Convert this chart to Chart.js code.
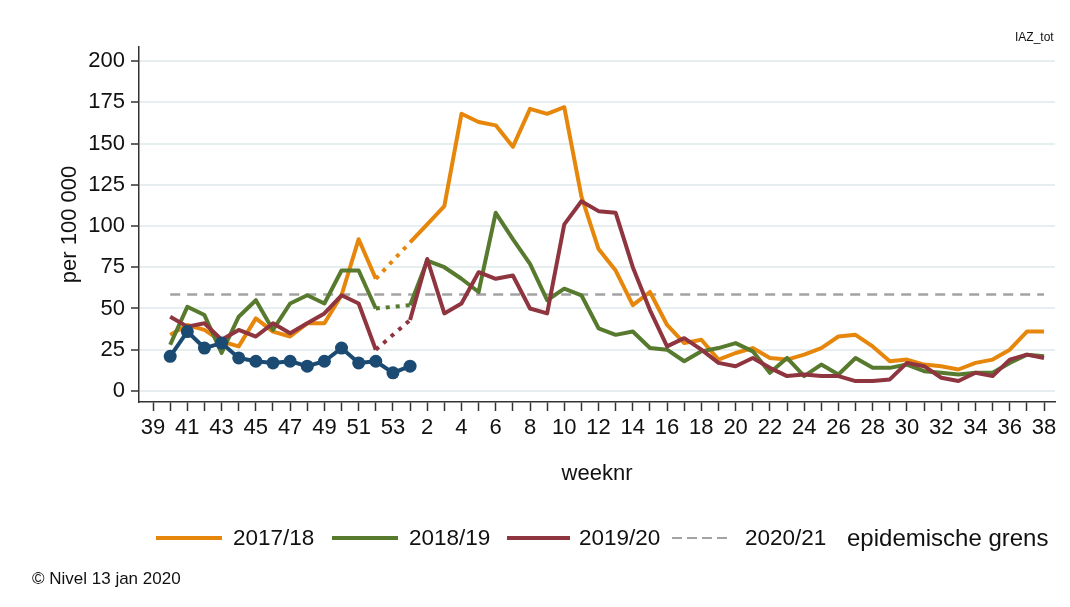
<!DOCTYPE html>
<html>
<head>
<meta charset="utf-8">
<title>IAZ_tot</title>
<script src="https://cdn.jsdelivr.net/npm/chart.js@4.4.1/dist/chart.umd.min.js"></script>
<style>
  html, body { margin: 0; padding: 0; background: #fff; }
  #wrap { position: relative; width: 1070px; height: 607px; }
</style>
</head>
<body>
<div id="wrap"><canvas id="iazChart"></canvas></div>
<script>
// weeknummers week 39 t/m 53, dan 1 t/m 38
const weekLabels = ["39","40","41","42","43","44","45","46","47","48","49","50","51","52","53",
  "1","2","3","4","5","6","7","8","9","10","11","12","13","14","15","16","17","18","19","20",
  "21","22","23","24","25","26","27","28","29","30","31","32","33","34","35","36","37","38"]

const yTicks = [0, 25, 50, 75, 100, 125, 150, 175, 200]

// per 100 000 (null = geen waarde)
const season1718 = [null, 34, 40, 37, 30, 27, 44, 36, 33, 41, 41, 58, 92, 68, null,
  90, 101, 112, 168, 163, 161, 148, 171, 168, 172, 118, 86, 73, 52, 60, 40, 29, 31, 19, 23,
  26, 20, 19, 22, 26, 33, 34, 27, 18, 19, 16, 15, 13, 17, 19, 25, 36, 36]

const season1819 = [null, 28, 51, 46, 23, 45, 55, 37, 53, 58, 53, 73, 73, 50, null,
  52, 79, 75, 68, 60, 108, 92, 77, 55, 62, 58, 38, 34, 36, 26, 25, 18, 24, 26, 29,
  24, 11, 20, 9, 16, 10, 20, 14, 14, 16, 12, 11, 10, 11, 11, 17, 22, 21]

const season1920 = [null, 45, 39, 41, 31, 37, 33, 41, 35, 41, 47, 58, 53, 25, null,
  43, 80, 47, 53, 72, 68, 70, 50, 47, 101, 115, 109, 108, 75, 49, 27, 32, 25, 17, 15,
  20, 14, 9, 10, 9, 9, 6, 6, 7, 17, 15, 8, 6, 11, 9, 19, 22, 20]

const seasonCurrent = [null, 21, 36, 26, 29, 20, 18, 17, 18, 15, 18, 26, 17, 18, 11, 15]

const epidemicThreshold = 58.5

const colOrange = "#E6870C"
const colGreen = "#577A2E"
const colRed = "#8F3540"
const colBlue = "#1B4A72"
const colGray = "#A3A3A3"

// legenda zoals in het origineel (x = begin lijnstukje, tx = begin tekst)
const legendEntries = [
  { text: "2017/18", color: colOrange, dash: [], width: 4, x: 156, len: 66, tx: 233, size: 22.5 },
  { text: "2018/19", color: colGreen, dash: [], width: 4, x: 332, len: 66, tx: 409, size: 22.5 },
  { text: "2019/20", color: colRed, dash: [], width: 4, x: 507, len: 63, tx: 579, size: 22.5 },
  { text: "2020/21", color: colGray, dash: [10, 5], width: 2, x: 672, len: 58, tx: 745, size: 22.5 },
  { text: "epidemische grens", color: null, tx: 847, size: 24 },
]

const toPoints = (arr) => arr.map((v, i) => ({ x: i, y: v }))

// gestippeld waar een week ontbreekt (week 53)
const gapDash = (ctx) => (ctx.p0.skip || ctx.p1.skip ? [4, 6] : undefined)

const fontFam = '"Liberation Sans", Arial, Helvetica, sans-serif'
Chart.defaults.font.family = fontFam
Chart.defaults.color = "#111"

const legendPlugin = {
  id: "stataLegend",
  afterDraw(chart) {
    const ctx = chart.ctx
    const y = 538
    ctx.save()
    ctx.textBaseline = "middle"
    ctx.fillStyle = "#111"
    legendEntries.forEach((item) => {
      if (item.color) {
        ctx.strokeStyle = item.color
        ctx.lineWidth = item.width
        ctx.setLineDash(item.dash)
        ctx.beginPath()
        ctx.moveTo(item.x, y)
        ctx.lineTo(item.x + item.len, y)
        ctx.stroke()
      }
      ctx.font = item.size + "px " + fontFam
      ctx.fillText(item.text, item.tx, y + 1)
    })
    ctx.setLineDash([])
    ctx.font = "17px " + fontFam
    ctx.fillText("\u00A9 Nivel 13 jan 2020", 32, 579)
    ctx.font = "12px " + fontFam
    ctx.fillText("IAZ_tot", 1015, 38)
    ctx.restore()
  },
}

const ctxEl = document.getElementById("iazChart")
new Chart(ctxEl, {
  type: "line",
  data: {
    datasets: [
      {
        label: "epidemische grens",
        data: toPoints(weekLabels.map((w, i) => (i === 0 ? null : epidemicThreshold))),
        borderColor: colGray,
        borderWidth: 2.5,
        borderDash: [10, 7],
        pointRadius: 0,
        order: 5,
      },
      {
        label: "2017/18",
        data: toPoints(season1718),
        borderColor: colOrange,
        borderWidth: 4,
        pointRadius: 0,
        spanGaps: true,
        segment: { borderDash: gapDash },
        order: 4,
      },
      {
        label: "2018/19",
        data: toPoints(season1819),
        borderColor: colGreen,
        borderWidth: 4,
        pointRadius: 0,
        spanGaps: true,
        segment: { borderDash: gapDash },
        order: 3,
      },
      {
        label: "2019/20",
        data: toPoints(season1920),
        borderColor: colRed,
        borderWidth: 4,
        pointRadius: 0,
        spanGaps: true,
        segment: { borderDash: gapDash },
        order: 2,
      },
      {
        label: "2020/21",
        data: toPoints(seasonCurrent),
        borderColor: colBlue,
        backgroundColor: colBlue,
        borderWidth: 4,
        pointRadius: 6.5,
        pointBorderWidth: 0,
        pointBackgroundColor: colBlue,
        order: 1,
      },
    ],
  },
  options: {
    responsive: true,
    maintainAspectRatio: false,
    animation: false,
    layout: { padding: { top: 47, right: 15, bottom: 0, left: 0 } },
    elements: {
      line: { tension: 0, borderJoinStyle: "round", borderCapStyle: "butt", fill: false },
    },
    plugins: {
      legend: { display: false },
      tooltip: { enabled: false },
    },
    scales: {
      x: {
        type: "linear",
        min: -0.82,
        max: 52.64,
        afterBuildTicks: (axis) => {
          axis.ticks = weekLabels.map((w, i) => ({ value: i }))
        },
        afterFit: (axis) => {
          axis.height = 205
        },
        ticks: {
          autoSkip: false,
          maxRotation: 0,
          padding: 4,
          font: { size: 22 },
          color: "#111",
          callback: (value) => (value % 2 === 0 ? weekLabels[value] : ""),
        },
        grid: { drawOnChartArea: false, tickLength: 9, tickColor: "#333", tickWidth: 1.5 },
        border: { color: "#333", width: 1.5 },
        title: {
          display: true,
          text: "weeknr",
          font: { size: 22 },
          color: "#111",
          padding: { top: 0, bottom: 120 },
        },
      },
      y: {
        min: -6.7,
        max: 208.5,
        afterBuildTicks: (axis) => {
          axis.ticks = yTicks.map((v) => ({ value: v }))
        },
        afterFit: (axis) => {
          axis.width = 139
        },
        ticks: { font: { size: 22 }, color: "#111", padding: 6 },
        grid: { color: "#E6EEF0", lineWidth: 2, tickColor: "#333", tickLength: 8, tickWidth: 1.5 },
        border: { color: "#333", width: 1.5 },
        title: {
          display: true,
          text: "per 100 000",
          font: { size: 22 },
          color: "#111",
          padding: { top: 57, bottom: 0 },
        },
      },
    },
  },
  plugins: [legendPlugin],
})
</script>
</body>
</html>
